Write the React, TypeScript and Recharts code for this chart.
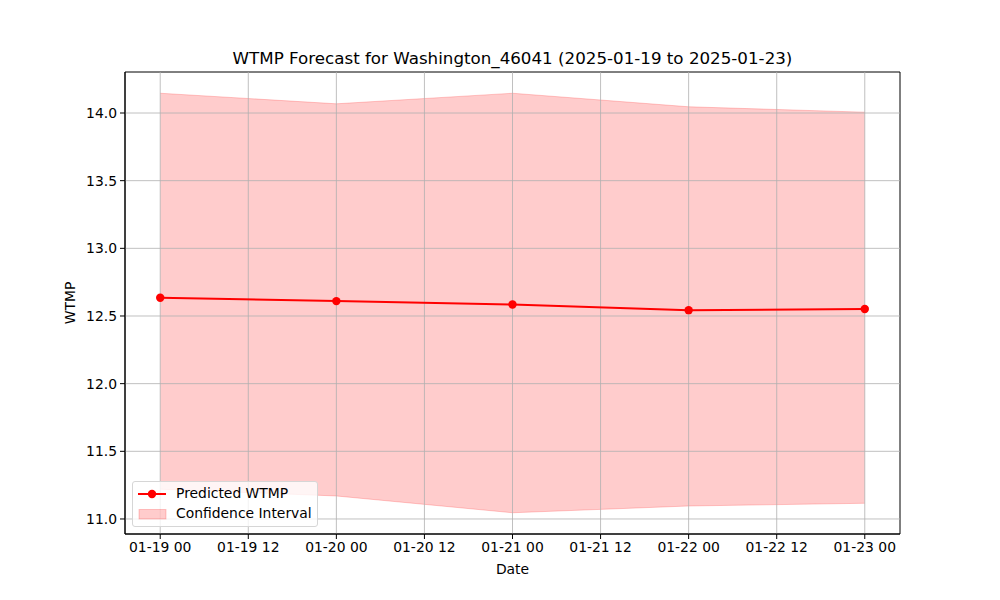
import React from "react";
import {
  ComposedChart,
  Line,
  Area,
  XAxis,
  YAxis,
  ReferenceLine,
  ReferenceArea,
} from "recharts";

const dates = ["2025-01-19", "2025-01-20", "2025-01-21", "2025-01-22", "2025-01-23"];
const predicted = [12.635, 12.61, 12.585, 12.543, 12.552];
const upper = [14.146, 14.068, 14.146, 14.046, 14.006];
const lower = [11.22, 11.17, 11.046, 11.096, 11.116];
const xTickLabels = [
  "01-19 00", "01-19 12", "01-20 00", "01-20 12", "01-21 00",
  "01-21 12", "01-22 00", "01-22 12", "01-23 00",
];
const yTicks = [11.0, 11.5, 12.0, 12.5, 13.0, 13.5, 14.0];

const DAY = 86400000;
const t0 = Date.parse(dates[0]);
const data = dates.map((d, i) => ({
  x: (Date.parse(d) - t0) / DAY,
  pred: predicted[i],
  band: [lower[i], upper[i]],
}));
const xTicks = xTickLabels.map((_, i) => i * 0.5);
const X_DOMAIN: [number, number] = [-0.2, 4.2];
const Y_DOMAIN: [number, number] = [10.889, 14.303];

const FONT = "'DejaVu Sans', sans-serif";

const LegendBox = () => (
  <div
    style={{
      position: "absolute",
      left: 132,
      top: 481,
      width: 186,
      height: 46,
      boxSizing: "border-box",
      background: "rgba(255,255,255,0.8)",
      border: "1px solid #d6d6d6",
      borderRadius: 3,
      fontFamily: FONT,
      fontSize: 13.9,
      color: "#000",
    }}
  >
    <svg width={40} height={46} style={{ position: "absolute", left: 0, top: 0 }}>
      <line x1={5} x2={33} y1={12} y2={12} stroke="#ff0000" strokeWidth={2} />
      <circle cx={19} cy={12} r={4.2} fill="#ff0000" />
      <rect x={6} y={27.5} width={27} height={9.5} fill="#ff0000" fillOpacity={0.2} stroke="#ff0000" strokeOpacity={0.2} />
    </svg>
    <div style={{ position: "absolute", left: 43, top: 3, whiteSpace: "nowrap", lineHeight: "17px" }}>Predicted WTMP</div>
    <div style={{ position: "absolute", left: 43, top: 23, whiteSpace: "nowrap", lineHeight: "17px" }}>Confidence Interval</div>
  </div>
);

export default function App() {
  return (
    <div style={{ position: "absolute", left: 0, top: 0, width: 1000, height: 600, background: "#fff" }}>
      <div
        style={{
          position: "absolute",
          left: 125,
          width: 775,
          top: 48,
          textAlign: "center",
          fontFamily: FONT,
          fontSize: 16.7,
          whiteSpace: "nowrap",
          lineHeight: "20px",
        }}
      >
        WTMP Forecast for Washington_46041 (2025-01-19 to 2025-01-23)
      </div>
      <div
        style={{
          position: "absolute",
          left: 125,
          width: 775,
          top: 561,
          textAlign: "center",
          fontFamily: FONT,
          fontSize: 13.9,
          lineHeight: "17px",
        }}
      >
        Date
      </div>
      <div
        style={{
          position: "absolute",
          left: 70,
          top: 303,
          transform: "translate(-50%, -50%) rotate(-90deg)",
          fontFamily: FONT,
          fontSize: 13.9,
          lineHeight: "17px",
        }}
      >
        WTMP
      </div>
      <ComposedChart
        width={1000}
        height={600}
        data={data}
        margin={{ top: 72, right: 100, bottom: 36, left: 65 }}
        style={{ fontFamily: FONT, position: "absolute", left: 0, top: 0 }}
      >
        <XAxis
          dataKey="x"
          type="number"
          domain={X_DOMAIN}
          ticks={xTicks}
          interval={0}
          tickFormatter={(v: number) => xTickLabels[Math.round(v * 2)] ?? ""}
          allowDataOverflow
          height={30}
          tickSize={5}
          tickMargin={3}
          stroke="#000"
          tick={{ fill: "#000", fontSize: 13.9 }}
          tickLine={{ stroke: "#000" }}
          axisLine={{ stroke: "#000" }}
        />
        <YAxis
          type="number"
          domain={Y_DOMAIN}
          ticks={yTicks}
          interval={0}
          allowDataOverflow
          tickFormatter={(v: number) => v.toFixed(1)}
          width={60}
          tickSize={5}
          tickMargin={3}
          stroke="#000"
          tick={{ fill: "#000", fontSize: 13.9 }}
          tickLine={{ stroke: "#000" }}
          axisLine={{ stroke: "#000" }}
        />
        <Area
          dataKey="band"
          type="linear"
          fill="#ff0000"
          fillOpacity={0.2}
          stroke="#ff0000"
          strokeOpacity={0.2}
          strokeWidth={1}
          isAnimationActive={false}
          legendType="none"
        />
        {xTicks.map((t) => (
          <ReferenceLine key={"vx" + t} x={t} stroke="#b0b0b0" strokeWidth={0.8} />
        ))}
        {yTicks.map((t) => (
          <ReferenceLine key={"hy" + t} y={t} stroke="#b0b0b0" strokeWidth={0.8} />
        ))}
        <Line
          dataKey="pred"
          type="linear"
          stroke="#ff0000"
          strokeWidth={2}
          dot={{ r: 4.2, fill: "#ff0000", stroke: "#ff0000", strokeWidth: 0 }}
          activeDot={false}
          isAnimationActive={false}
        />
        <ReferenceArea
          x1={X_DOMAIN[0]}
          x2={X_DOMAIN[1]}
          y1={Y_DOMAIN[0]}
          y2={Y_DOMAIN[1]}
          fill="none"
          fillOpacity={0}
          stroke="#000"
          strokeWidth={1}
          strokeOpacity={1}
          ifOverflow="visible"
        />
      </ComposedChart>
      <LegendBox />
    </div>
  );
}
